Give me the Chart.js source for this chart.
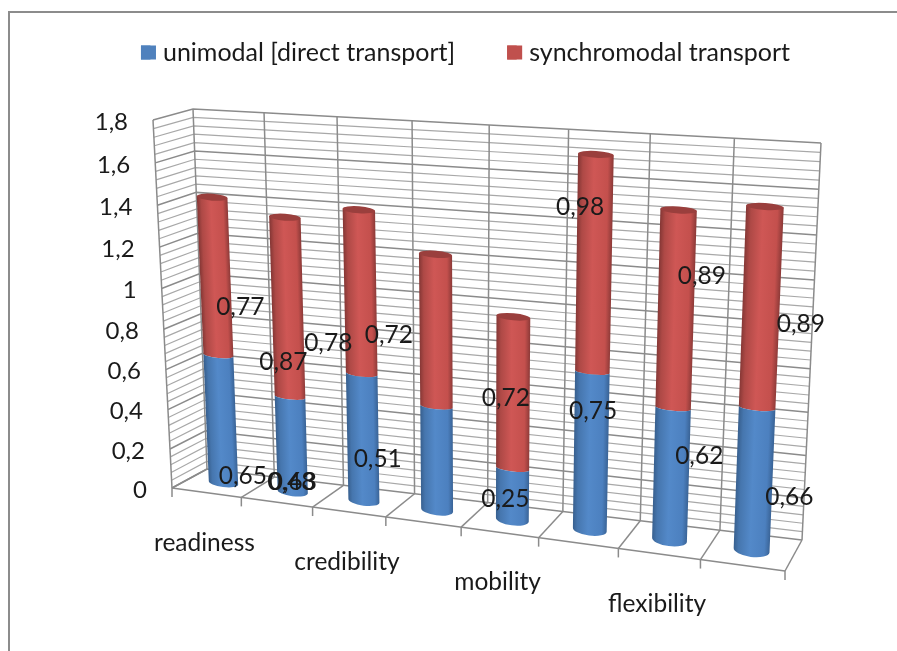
<!DOCTYPE html>
<html>
<head>
<meta charset="utf-8">
<title>Transport chart</title>
<script src="https://cdn.jsdelivr.net/npm/chart.js@4/dist/chart.umd.min.js"></script>
<style>
html, body { margin: 0; padding: 0; background: #fff; overflow: hidden; }
canvas { display: block; filter: blur(0.5px); }
</style>
</head>
<body>
<canvas id="transportChart" width="897" height="651"></canvas>
<script>
var categories = ['readiness', '', 'credibility', '', 'mobility', '', 'flexibility', ''];
var unimodal = [0.65, 0.48, 0.63, 0.51, 0.25, 0.75, 0.62, 0.66];
var synchromodal = [0.77, 0.87, 0.78, 0.72, 0.72, 0.98, 0.89, 0.89];

// data label nudges, px from the middle of each segment
var unimodalNudge = [[22, 57], [0, 38], [-70, 44], [-59, 1], [-7, 5], [2, -40], [28, -18], [35, 18]];
var synchromodalNudge = [[25, 30], [-4, 54], [-32, 50], [-47, 4], [-7, 5], [-14, -57], [26, -34], [40, 16]];

var BLUE = '#4F81BD';
var RED = '#C0504D';
var FONT = 'Lato, "Open Sans", sans-serif';

// corners of the 3d box as the picture shows it
var back = { bl: [207, 469], br: [802, 540], tl: [193, 109], tr: [821, 143] };
var front = { bl: [172, 488], br: [785, 571], tl: [153, 120], tr: [802, 158] };

var shades = {};
shades[BLUE] = ['#38608f', '#4676ae', '#5389c9', '#4c80bf', '#3a6497'];
shades[RED] = ['#873836', '#ae4946', '#cf5755', '#c4504d', '#8f3b39'];

var view = null;

function warp(t, k) {
    return t / (t + k * (1 - t));
}

function mix(a, b, t) {
    return [a[0] + (b[0] - a[0]) * t, a[1] + (b[1] - a[1]) * t];
}

// u along the categories, v up the value axis, d from back wall (0) to front (1)
function project(u, v, d) {
    var uu = warp(u, 1.12);
    var vv = warp(v, 1.055);
    var b = mix(mix(back.bl, back.br, uu), mix(back.tl, back.tr, uu), vv);
    var f = mix(mix(front.bl, front.br, uu), mix(front.tl, front.tr, uu), vv);
    return mix(b, f, d);
}

function uOf(px) {
    var a = view.chartArea;
    return (px - a.left) / (a.right - a.left);
}

function vOf(py) {
    var a = view.chartArea;
    return (a.bottom - py) / (a.bottom - a.top);
}

function line(ctx, p, q) {
    ctx.beginPath();
    ctx.moveTo(p[0], p[1]);
    ctx.lineTo(q[0], q[1]);
    ctx.stroke();
}

function ellipseAt(p, q) {
    return {
        x: (p[0] + q[0]) / 2,
        y: (p[1] + q[1]) / 2,
        rx: Math.hypot(q[0] - p[0], q[1] - p[1]) / 2,
        rot: Math.atan2(q[1] - p[1], q[0] - p[0])
    };
}

// bars are drawn as cylinders standing halfway into the box
Chart.BarElement.prototype.draw = function (ctx) {
    var halfU = uOf(this.x + this.width / 2) - uOf(this.x);
    var u = uOf(this.x);
    var vTop = vOf(this.y);
    var vBase = vOf(this.base);
    var tl = project(u - halfU, vTop, 0.5);
    var tr = project(u + halfU, vTop, 0.5);
    var bl = project(u - halfU, vBase, 0.5);
    var br = project(u + halfU, vBase, 0.5);
    var top = ellipseAt(tl, tr);
    var bot = ellipseAt(bl, br);
    var color = this.options.backgroundColor;
    var isTop = color === RED;
    var bottomRy = isTop ? 3 : 4 + 3 * u;

    // gradient runs square to the leaning cylinder axis
    var ax = top.x - bot.x, ay = top.y - bot.y, len = Math.hypot(ax, ay);
    var nx = -ay / len, ny = ax / len;
    var w = (br[0] - bl[0]) * nx + (br[1] - bl[1]) * ny;
    var grad = ctx.createLinearGradient(bl[0], bl[1], bl[0] + nx * w, bl[1] + ny * w);
    var s = shades[color];
    grad.addColorStop(0, s[0]);
    grad.addColorStop(0.13, s[1]);
    grad.addColorStop(0.45, s[2]);
    grad.addColorStop(0.85, s[3]);
    grad.addColorStop(1, s[4]);

    ctx.save();
    ctx.fillStyle = grad;
    ctx.beginPath();
    ctx.moveTo(tl[0], tl[1]);
    if (isTop) {
        ctx.lineTo(tr[0], tr[1]);
    } else {
        ctx.ellipse(top.x, top.y, top.rx, 3, top.rot, Math.PI, 0, true);
    }
    ctx.lineTo(br[0], br[1]);
    ctx.ellipse(bot.x, bot.y, bot.rx, bottomRy, bot.rot, 0, Math.PI, false);
    ctx.closePath();
    ctx.fill();
    if (isTop) {
        ctx.fillStyle = '#9a3f3d';
        ctx.beginPath();
        ctx.ellipse(top.x, top.y, top.rx, 3.5, top.rot, 0, Math.PI * 2);
        ctx.fill();
    }
    ctx.restore();
};

function axisValue(y, value) {
    return vOf(y.getPixelForValue(value));
}

var boxPlugin = {
    id: 'box3d',
    beforeDraw: function (chart) {
        var ctx = chart.ctx;
        ctx.save();
        ctx.strokeStyle = '#8c8c8c';
        ctx.lineWidth = 2;
        ctx.beginPath();
        ctx.moveTo(9, chart.height + 2);
        ctx.lineTo(9, 12);
        ctx.lineTo(chart.width + 2, 12);
        ctx.stroke();
        ctx.restore();
    },
    beforeDatasetsDraw: function (chart) {
        view = chart;
        var ctx = chart.ctx;
        var y = chart.scales.y;
        var i, v;
        ctx.save();

        // minor lines every 0,04 on back and side walls
        ctx.strokeStyle = '#a8a8a8';
        ctx.lineWidth = 1.2;
        for (i = 0; i <= 45; i++) {
            if (i % 5 === 0) continue;
            v = axisValue(y, i * 0.04);
            ctx.beginPath();
            var p0 = project(0, v, 1), p1 = project(0, v, 0);
            ctx.moveTo(p0[0], p0[1]);
            ctx.lineTo(p1[0], p1[1]);
            for (var s = 1; s <= 8; s++) {
                var q = project(s / 8, v, 0);
                ctx.lineTo(q[0], q[1]);
            }
            ctx.stroke();
        }

        // major lines
        ctx.strokeStyle = '#8b8b8b';
        ctx.lineWidth = 1.5;
        y.ticks.forEach(function (t) {
            var m = axisValue(y, t.value);
            ctx.beginPath();
            var a = project(0, m, 1), b = project(0, m, 0);
            ctx.moveTo(a[0], a[1]);
            ctx.lineTo(b[0], b[1]);
            for (var s = 1; s <= 8; s++) {
                var q = project(s / 8, m, 0);
                ctx.lineTo(q[0], q[1]);
            }
            ctx.stroke();
        });

        // verticals, floor lines and tick stubs
        line(ctx, project(0, 0, 1), project(0, 1, 1));
        for (i = 0; i <= categories.length; i++) {
            var u = i / categories.length;
            var foot = project(u, 0, 1);
            line(ctx, project(u, 0, 0), project(u, 1, 0));
            line(ctx, foot, project(u, 0, 0));
            line(ctx, foot, [foot[0], foot[1] + 9]);
        }
        line(ctx, project(0, 0, 1), project(1, 0, 1));
        ctx.restore();
    },
    afterDatasetsDraw: function (chart) {
        var ctx = chart.ctx;
        var y = chart.scales.y;
        var x = chart.scales.x;
        ctx.save();
        ctx.fillStyle = '#1a1a1a';
        ctx.textBaseline = 'middle';

        // value axis labels follow the slanted front edge
        ctx.font = '24px ' + FONT;
        ctx.textAlign = 'right';
        y.ticks.forEach(function (t) {
            var p = project(0, axisValue(y, t.value), 1);
            ctx.fillText(t.label, p[0] - 25, p[1] + 2);
        });

        // category labels sit under the front floor edge
        ctx.font = '24.5px ' + FONT;
        ctx.textAlign = 'center';
        categories.forEach(function (name, i) {
            var p = project(uOf(x.getPixelForValue(i)), 0, 1);
            ctx.fillText(name, p[0] - 2, p[1] + 50);
        });

        // data labels
        [unimodalNudge, synchromodalNudge].forEach(function (nudge, ds) {
            chart.getDatasetMeta(ds).data.forEach(function (el, i) {
                var p = project(uOf(el.x), vOf((el.y + el.base) / 2), 0.5);
                var value = chart.data.datasets[ds].data[i];
                ctx.fillText(String(value).replace('.', ','), p[0] + nudge[i][0], p[1] + nudge[i][1]);
            });
        });
        ctx.restore();
    },
    afterDraw: function (chart) {
        // legend keys are wider than the gap chart.js leaves before the text
        var ctx = chart.ctx;
        ctx.save();
        chart.legend.legendHitBoxes.forEach(function (hit, i) {
            ctx.fillStyle = chart.data.datasets[i].backgroundColor;
            ctx.fillRect(hit.left, hit.top + (hit.height - 14) / 2, 15, 14);
        });
        ctx.restore();
    }
};

new Chart(document.getElementById('transportChart'), {
    type: 'bar',
    data: {
        labels: categories,
        datasets: [
            { label: 'unimodal [direct transport]', data: unimodal, backgroundColor: BLUE, clip: false },
            { label: 'synchromodal transport', data: synchromodal, backgroundColor: RED, clip: false }
        ]
    },
    options: {
        responsive: false,
        animation: false,
        barPercentage: 0.43,
        categoryPercentage: 1,
        layout: { padding: { left: 54, right: 20, top: -12, bottom: 80 } },
        scales: {
            x: {
                stacked: true,
                grid: { display: false },
                border: { display: false },
                ticks: { display: false, autoSkip: false }
            },
            y: {
                stacked: true,
                min: 0,
                max: 1.8,
                grid: { display: false },
                border: { display: false },
                ticks: {
                    display: false,
                    stepSize: 0.2,
                    callback: function (value) {
                        return String(Math.round(value * 10) / 10).replace('.', ',');
                    }
                }
            }
        },
        plugins: {
            tooltip: { enabled: false },
            legend: {
                position: 'top',
                labels: {
                    boxWidth: 9.5,
                    boxHeight: 14,
                    padding: 52,
                    color: '#1a1a1a',
                    font: { family: FONT, size: 25 }
                }
            }
        }
    },
    plugins: [boxPlugin]
});
</script>
</body>
</html>
